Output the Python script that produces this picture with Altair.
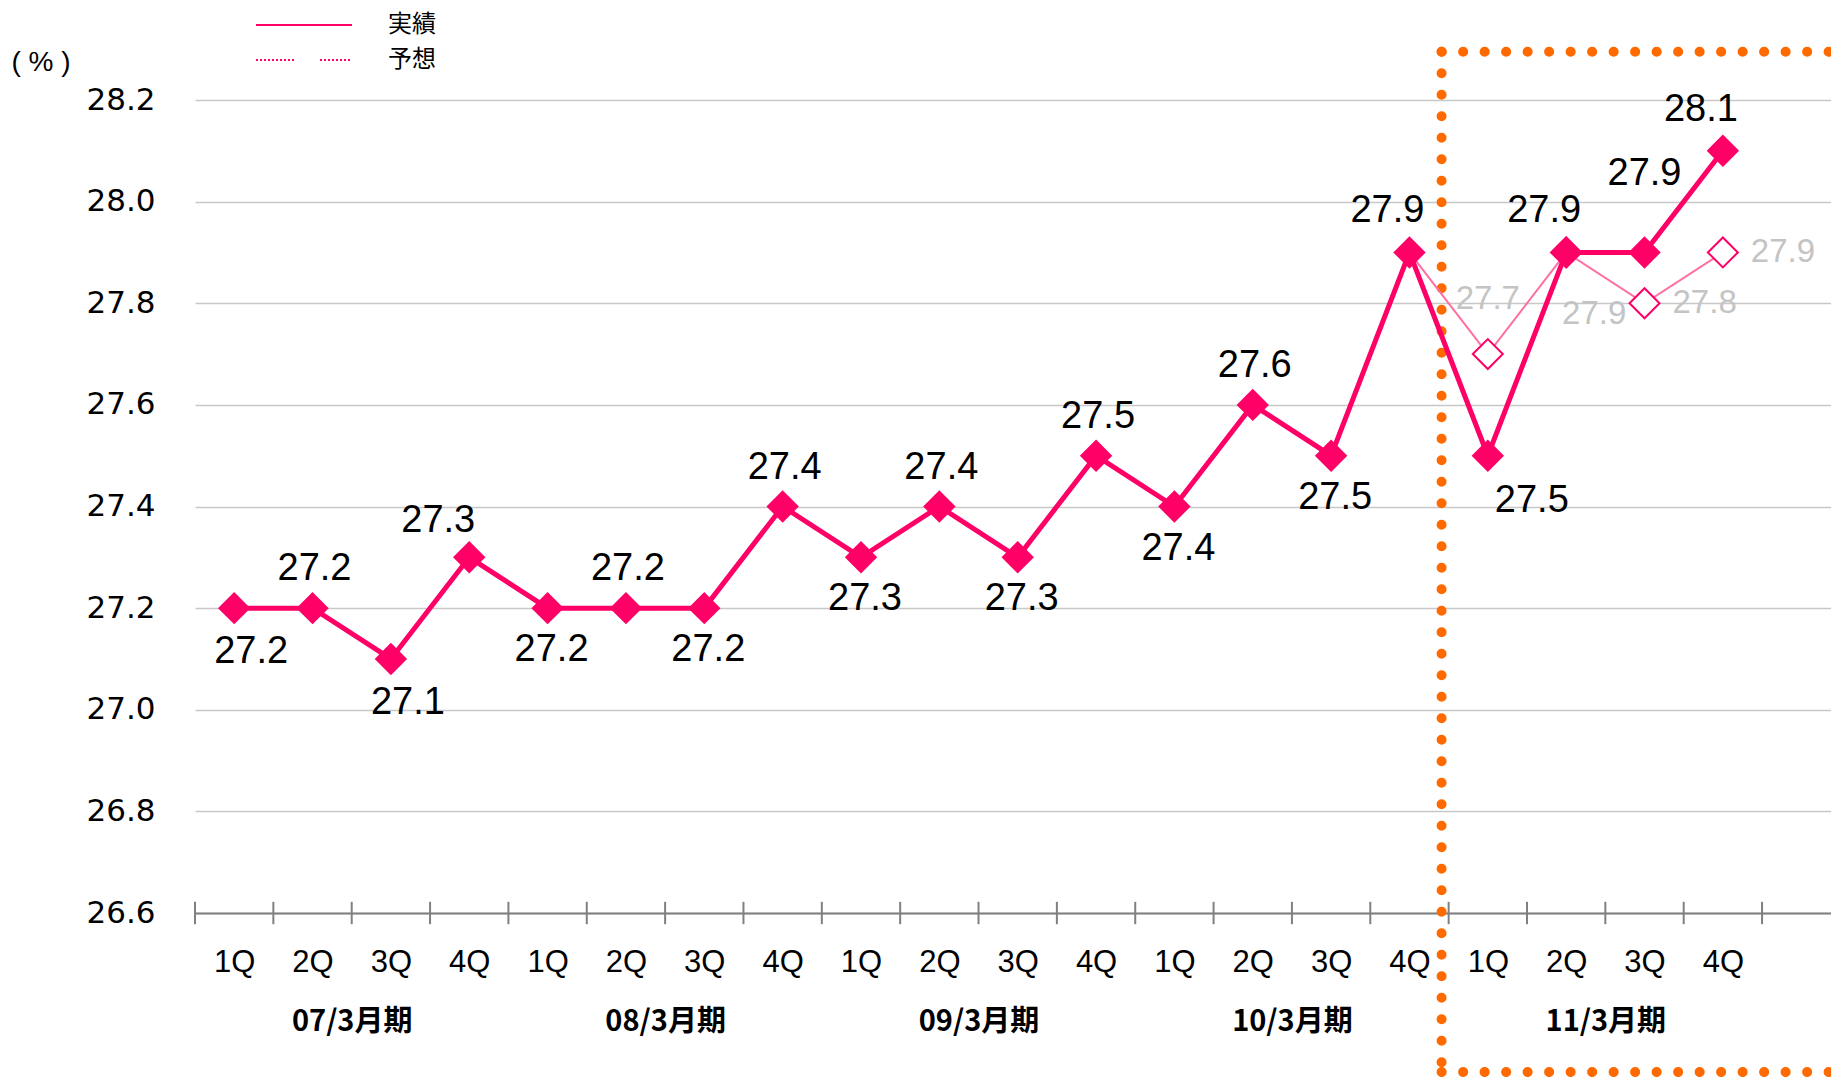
import altair as alt
import pandas as pd

# ---------------- data ----------------
quarters = ["1Q", "2Q", "3Q", "4Q"]
fiscal_years = ["07/3月期", "08/3月期", "09/3月期", "10/3月期", "11/3月期"]
actual = [27.2, 27.2, 27.1, 27.3, 27.2, 27.2, 27.2, 27.4, 27.3, 27.4,
          27.3, 27.5, 27.4, 27.6, 27.5, 27.9, 27.5, 27.9, 27.9, 28.1]
actual_label_side = ["below_right", "above", "below_right", "above_far_left",
                     "below", "above", "below", "above",
                     "below", "above", "below", "above",
                     "below", "above", "below", "above_left",
                     "below_far_right", "above_left", "above_high", "above_left"]
forecast_index = [15, 16, 17, 18, 19]
forecast = [27.9, 27.7, 27.9, 27.8, 27.9]
forecast_label_side = ["none", "above", "below_right", "right", "right"]
y_ticks = [26.6, 26.8, 27.0, 27.2, 27.4, 27.6, 27.8, 28.0, 28.2]
series_names = ["実績", "予想"]

# annotation box around the 11/3 fiscal year (data units)
box_left = 15.91
box_top = 28.295
box_bottom = 26.287

PINK = "#ff0066"
n = len(actual)
x_max = 20.88
W, H = 1636, 813

act_df = pd.DataFrame({"i": [k + 0.5 for k in range(n)], "v": actual,
                       "side": actual_label_side,
                       "lab": [f"{v:.1f}" for v in actual]})
fc_df = pd.DataFrame({"i": [k + 0.5 for k in forecast_index], "v": forecast,
                      "side": forecast_label_side,
                      "lab": [f"{v:.1f}" for v in forecast]})
tick_df = pd.DataFrame({"t": list(range(n + 1))})
year_df = pd.DataFrame({"c": [2 + 4 * k for k in range(len(fiscal_years))]})
legend_df = pd.DataFrame({"s": series_names * 2, "i": [0.5, 0.5, 1.5, 1.5], "v": [27.0] * 4})

xs = alt.Scale(domain=[0, x_max], nice=False, zero=False)
ys = alt.Scale(domain=[26.6, 28.2], nice=False, zero=False)
no_x = alt.X("i:Q", scale=xs, axis=None)
no_y = alt.Y("v:Q", scale=ys, axis=None)

q_expr = "[" + ",".join(f"'{q}'" for q in quarters) + "][floor(datum.value) % 4]"
y_expr = "[" + ",".join(f"'{y}'" for y in fiscal_years) + "][round((datum.value - 2) / 4)]"

# orange dotted box
box_df = pd.DataFrame({"x0": [box_left, box_left, box_left], "x1": [box_left, x_max, x_max],
                       "y0": [box_top, box_top, box_bottom], "y1": [box_bottom, box_top, box_bottom]})
box = alt.Chart(box_df).mark_rule(color="#ff6a00", strokeWidth=10, strokeCap="round",
                                  strokeDash=[0.1, 21.4], clip=False).encode(
    x=alt.X("x0:Q", scale=xs, axis=None), x2="x1:Q",
    y=alt.Y("y0:Q", scale=ys, axis=None), y2="y1:Q")

# y axis with grid (invisible carrier layer)
y_axis_layer = alt.Chart(pd.DataFrame({"v": y_ticks})).mark_point(opacity=0).encode(
    x=alt.value(0),
    y=alt.Y("v:Q", scale=ys, axis=alt.Axis(
        values=y_ticks, format=".1f", ticks=False, domain=False, grid=True,
        gridColor="#c8c8c8", gridWidth=1.5, labelFont="DejaVu Sans", labelFontSize=31,
        labelColor="#000000", labelPadding=40,
        title="( % )", titleAngle=0, titleFont="Liberation Sans", titleFontSize=28,
        titleFontWeight="normal", titleColor="#000000", titleAlign="left",
        titleBaseline="middle", titleX=-184, titleY=-38)))

# x ticks crossing the axis line, quarter labels axis
ticks = alt.Chart(tick_df).transform_calculate(ya="26.578", yb="26.622").mark_rule(
    color="#808080", strokeWidth=2, clip=False).encode(
    x=alt.X("t:Q", scale=xs, axis=alt.Axis(
        orient="bottom", values=[k + 0.5 for k in range(n)], labelExpr=q_expr,
        ticks=False, grid=False, domain=True, domainColor="#808080", domainWidth=2,
        labelFont="Liberation Sans", labelFontSize=31, labelColor="#000000",
        labelPadding=34, title=None)),
    y=alt.Y("ya:Q", scale=ys, axis=None), y2="yb:Q")

# fiscal year labels axis (invisible layer)
years = alt.Chart(year_df).mark_point(opacity=0).encode(
    x=alt.X("c:Q", scale=xs, axis=alt.Axis(
        orient="bottom", values=[2 + 4 * k for k in range(len(fiscal_years))], labelExpr=y_expr,
        ticks=False, grid=False, domain=False,
        labelFont="Liberation Sans Narrow, Noto Sans CJK JP", labelFontSize=29,
        labelFontWeight="bold", labelColor="#000000", labelPadding=94, title=None)),
    y=alt.Y("c:Q", scale=ys, axis=None))

# legend (invisible layer carrying the legend)
dotted = [2, 2] * 9 + [2, 26] + [2, 2] * 9 + [2, 60]
legend_layer = alt.Chart(legend_df).mark_line(opacity=0).encode(
    x=no_x, y=no_y,
    color=alt.Color("s:N", scale=alt.Scale(domain=series_names, range=[PINK, PINK]),
                    legend=alt.Legend(title=None, orient="none", legendX=92, legendY=-92,
                                      symbolType="M-3,0H3", symbolSize=1024,
                                      symbolStrokeWidth=2, symbolOpacity=1,
                                      symbolFillColor="transparent",
                                      labelFont="Noto Sans CJK JP", labelFontSize=24,
                                      labelColor="#000000", labelOffset=67, rowPadding=6)),
    strokeDash=alt.StrokeDash("s:N", scale=alt.Scale(domain=series_names,
                                                      range=[[1, 0], dotted]), legend=None),
)

# forecast line + hollow diamonds
fc_line = alt.Chart(fc_df).mark_line(color="#ff6fa3", strokeWidth=2).encode(x=no_x, y=no_y)
fc_pts = alt.Chart(fc_df).transform_filter("datum.side != 'none'").mark_point(
    shape="diamond", filled=True, fill="#ffffff", stroke=PINK, strokeWidth=2, size=900,
    opacity=1).encode(x=no_x, y=no_y)

# actual line + filled diamonds
act_line = alt.Chart(act_df).mark_line(color=PINK, strokeWidth=5).encode(x=no_x, y=no_y)
act_pts = alt.Chart(act_df).mark_point(shape="diamond", filled=True, color=PINK, size=1050,
                                       opacity=1).encode(x=no_x, y=no_y)

def labels(df, side, dx, dy, color, size, align="center"):
    return alt.Chart(df).transform_filter(f"datum.side == '{side}'").mark_text(
        font="Liberation Sans", fontSize=size, color=color, dx=dx, dy=dy,
        align=align, baseline="middle").encode(x=no_x, y=no_y, text="lab:N")

BLACK = "#000000"
GRAY = "#c4c4c4"
lab_layers = [
    labels(act_df, "above", 2, -39, BLACK, 38),
    labels(act_df, "above_left", -22, -41, BLACK, 38),
    labels(act_df, "above_far_left", -31, -36, BLACK, 38),
    labels(act_df, "above_high", 0, -78, BLACK, 38),
    labels(act_df, "below", 4, 42, BLACK, 38),
    labels(act_df, "below_right", 17, 44, BLACK, 38),
    labels(act_df, "below_far_right", 44, 45, BLACK, 38),
    labels(fc_df, "above", 0, -55, GRAY, 33),
    labels(fc_df, "below_right", 28, 62, GRAY, 33),
    labels(fc_df, "right", 28, 0, GRAY, 33, align="left"),
]

chart = alt.layer(
    y_axis_layer, legend_layer, ticks, years, box, fc_line, fc_pts, act_line, act_pts, *lab_layers
).resolve_axis(x="independent", y="independent").properties(
    width=W, height=H,
    autosize=alt.AutoSizeParams(type="none"),
    padding={"left": 195, "top": 100, "right": 0, "bottom": 164},
    background="#ffffff",
).configure_view(stroke=None)

chart.save("out.html", embed_options={"renderer": "svg", "actions": False})
